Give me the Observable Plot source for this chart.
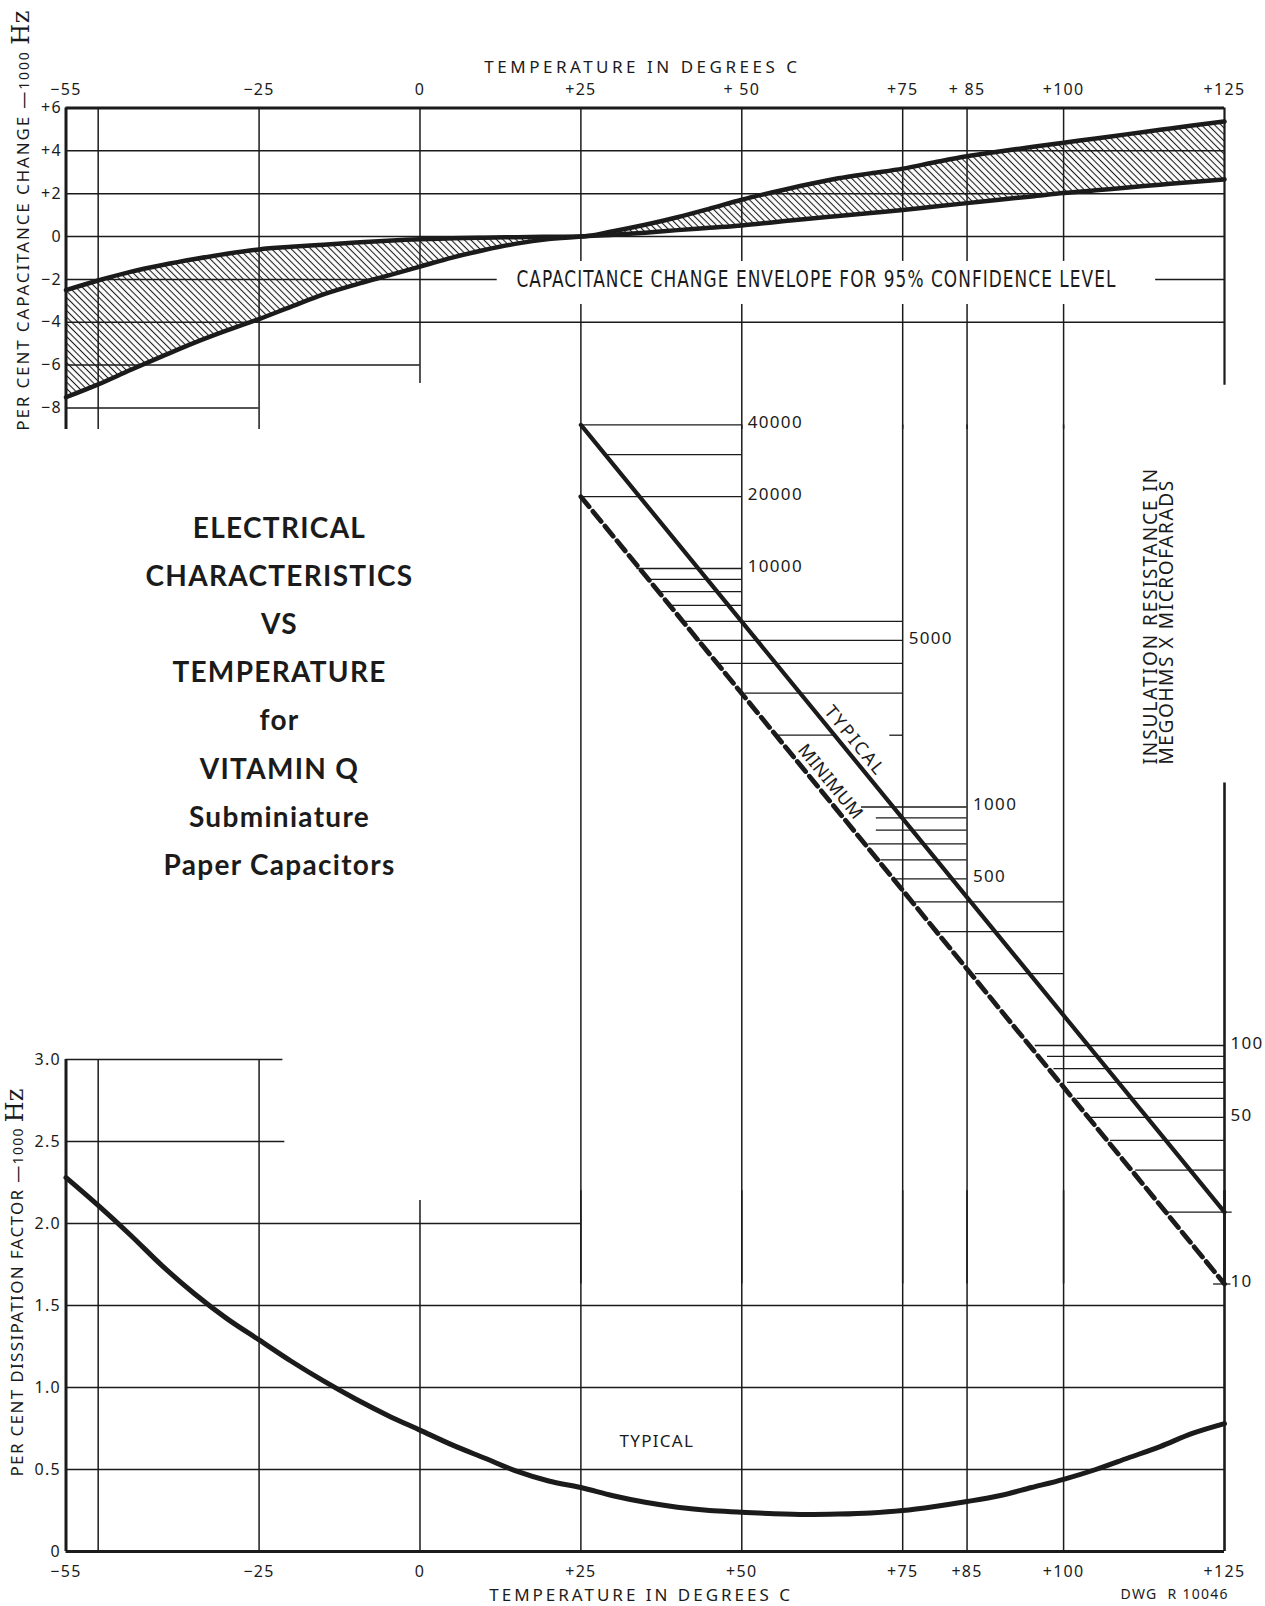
<!DOCTYPE html>
<html><head><meta charset="utf-8">
<script src="https://cdn.jsdelivr.net/npm/d3@7"></script>
<script src="https://cdn.jsdelivr.net/npm/@observablehq/plot@0.6"></script>
<style>
html,body{margin:0;padding:0;background:#fff;}
#page{position:relative;width:1265px;height:1606px;overflow:hidden;background:#fff;}
#page svg{position:absolute;left:0;top:0;}
</style></head><body><div id="page"></div>
<script>
// ---------------- data ----------------
const tempTicks = [-55, -25, 0, 25, 50, 75, 85, 100, 125];
const topTickLabels = ["−55", "−25", "0", "+25", "+ 50", "+75", "+ 85", "+100", "+125"];
const bottomTickLabels = ["−55", "−25", "0", "+25", "+50", "+75", "+85", "+100", "+125"];

// capacitance change envelope (per cent)
const capTemps = [-55,-50,-45,-40,-35,-30,-25,-20,-15,-10,-5,0,5,10,15,20,25,30,35,40,45,50,55,60,65,70,75,80,85,90,95,100,105,110,115,120,125];
const capUpper = [-2.5,-2.05,-1.65,-1.33,-1.05,-0.8,-0.6,-0.48,-0.38,-0.28,-0.19,-0.12,-0.08,-0.05,-0.03,-0.01,0,0.25,0.55,0.9,1.3,1.72,2.08,2.42,2.72,2.95,3.17,3.47,3.75,3.97,4.18,4.38,4.58,4.78,4.98,5.18,5.37];
const capLower = [-7.5,-6.9,-6.23,-5.58,-4.95,-4.38,-3.85,-3.27,-2.7,-2.24,-1.82,-1.4,-0.98,-0.63,-0.33,-0.12,0,0.08,0.18,0.3,0.41,0.52,0.67,0.82,0.96,1.1,1.24,1.4,1.56,1.72,1.87,2.03,2.16,2.29,2.42,2.55,2.67];
const capTicks = [6, 4, 2, 0, -2, -4, -6, -8];
const capTickLabels = ["+6", "+4", "+2", "0", "−2", "−4", "−6", "−8"];
const capGridValues = [6, 4, 2, 0, -2, -2, -4, -6, -8];
const capGridStart  = [-55, -55, -55, -55, -55, 114.3, -55, -55, -55];
const capGridEnd    = [125, 125, 125, 125, 12, 125, 125, 0, -25];
const capVertTemps  = [-55, -50, -25, 0, 25, 25, 50, 50, 75, 75, 85, 85, 100, 100, 125];
const capVertTop    = [6, 6, 6, 6, 6, -3.17, 6, -3.17, 6, -3.17, 6, -3.17, 6, -3.17, 6];
const capVertBottom = [-9, -9, -9, -6.86, -1.16, -9, -1.16, -9, -1.16, -9, -1.16, -9, -1.16, -9, -6.94];
const capNote = "CAPACITANCE CHANGE ENVELOPE FOR 95% CONFIDENCE LEVEL";
const capNoteTemp = 61.6, capNoteValue = -2;

// insulation resistance (megohms x microfarads)
const irTemps = [25, 125];
const irTypical = [40000, 20];
const irMinimum = [20000, 10];
const irGridValues = [40000,30000,20000,10000,9000,8000,7000,6000,5000,4000,3000,2000,2000,1000,900,800,700,600,500,400,300,200,100,90,80,70,60,50,40,30,20,10];
const irGridStart  = [25,29,25,33.7,35.8,37.2,38.9,41,43.3,46.6,50.5,55.5,73,68.6,70.9,70.9,69.7,71.6,73.6,77,80.8,86.3,95.6,97.5,98.5,100.6,102.1,104.2,107.3,111.2,116.1,123.3];
const irGridEnd    = [50,50,50,50,50,50,50,75,75,75,75,64.3,75,85,85,85,85,85,85,100,100,100,125,125,125,125,125,125,125,125,126.2,126];
const irVertTemps  = [25, 50, 75, 85, 100, 125];
const irVertTop    = [40000, 40000, 40000, 40000, 40000, 1260];
const irVertBottom = [10, 10, 10, 10, 10, 10];
const irLabelValues = [40000, 20000, 10000, 5000, 1000, 500, 100, 50, 10];
const irLabelTemps  = [50, 50, 50, 75, 85, 85, 125, 125, 125];
const irNotes = ["TYPICAL", "MINIMUM"];
const irNoteTemps = [67.5, 63.8];
const irNoteValues = [1900, 1270];

// dissipation factor (per cent)
const dfTemps = [-55,-50,-45,-40,-35,-30,-25,-20,-15,-10,-5,0,5,10,15,20,25,30,35,40,45,50,55,60,65,70,75,80,85,90,95,100,105,110,115,120,125];
const dfTypical = [2.28,2.11,1.93,1.74,1.57,1.42,1.29,1.16,1.04,0.93,0.83,0.74,0.65,0.57,0.49,0.43,0.39,0.34,0.3,0.27,0.25,0.24,0.23,0.225,0.228,0.235,0.25,0.275,0.305,0.34,0.39,0.44,0.5,0.57,0.64,0.72,0.78];
const dfTicks = [0, 0.5, 1, 1.5, 2, 2.5, 3];
const dfTickLabels = ["0", "0.5", "1.0", "1.5", "2.0", "2.5", "3.0"];
const dfGridValues = [3, 2.5, 2, 1.5, 1, 0.5, 0];
const dfGridStart  = [-55, -55, -55, -55, -55, -55, -55];
const dfGridEnd    = [-21.3, -21, 25, 125, 125, 125, 125];
const dfVertTemps  = [-55, -50, -25, 0, 25, 50, 75, 85, 100, 125];
const dfVertTop    = [3, 3, 3, 2.14, 2.2, 2.2, 2.2, 2.2, 2.2, 2.2];
const dfVertBottom = [0, 0, 0, 0, 0, 0, 0, 0, 0, 0];
const dfNote = "TYPICAL", dfNoteTemp = 36.8, dfNoteValue = 0.67;

const titleLines = ["ELECTRICAL", "CHARACTERISTICS", "VS", "TEMPERATURE", "for", "VITAMIN Q", "Subminiature", "Paper Capacitors"];
const xTitle = "TEMPERATURE IN DEGREES C";
const capTitle = "PER CENT CAPACITANCE CHANGE —";
const dfTitle = "PER CENT DISSIPATION FACTOR —";
const irTitle = ["INSULATION RESISTANCE IN", "MEGOHMS X MICROFARADS"];
const drawingNo = "DWG  R 10046";

// ---------------- layout ----------------
const W = 1265, H = 1606;
const INK = "#1b1b1b";
const ML = 65.5, MR = 41;
const baseStyle = "background: transparent; font-family: 'Noto Sans', 'DejaVu Sans', sans-serif; font-size: 16px; color: " + INK + "; letter-spacing: 1.3px;";
const xScale = {domain: [-55, 125]};
const page = document.getElementById("page");

const capData = capTemps.map((t, i) => ({t, hi: capUpper[i], lo: capLower[i]}));
const capGrid = capGridValues.map((v, i) => ({v, x1: capGridStart[i], x2: capGridEnd[i]}));
const capVert = capVertTemps.map((t, i) => ({t, y1: capVertTop[i], y2: capVertBottom[i]}));

const capPlot = Plot.plot({
  width: W, height: H,
  marginLeft: ML, marginRight: MR, marginTop: 107.5, marginBottom: H - 428.9,
  style: baseStyle,
  x: {...xScale, axis: "top", ticks: tempTicks, tickFormat: d => topTickLabels[tempTicks.indexOf(d)], tickSize: 0, tickPadding: 13, label: null},
  y: {domain: [-9, 6], axis: "left", ticks: capTicks, tickFormat: d => capTickLabels[capTicks.indexOf(d)], tickSize: 0, tickPadding: 4, label: null},
  marks: [
    Plot.areaY(capData, {x: "t", y1: "lo", y2: "hi", fill: "url(#hatch)", curve: "monotone-x"}),
    Plot.ruleY(capGrid, {y: "v", x1: "x1", x2: "x2", stroke: INK, strokeWidth: d => d.v === 6 ? 3 : 1.5}),
    Plot.ruleX(capVert, {x: "t", y1: "y1", y2: "y2", stroke: INK, strokeWidth: d => d.t === -55 ? 3 : d.t === 125 ? 2.2 : 1.5}),
    Plot.line(capData, {x: "t", y: "hi", stroke: INK, strokeWidth: 4.5, curve: "monotone-x"}),
    Plot.line(capData, {x: "t", y: "lo", stroke: INK, strokeWidth: 4.5, curve: "monotone-x"}),
    Plot.text([capNote], {x: () => capNoteTemp, y: () => capNoteValue, text: d => d, fontFamily: "'DejaVu Sans Condensed', 'Liberation Sans Narrow', sans-serif", fontSize: 23}),
    Plot.text([xTitle], {frameAnchor: "top", lineAnchor: "middle", dx: -4, dy: -40, fontSize: 17, text: d => d}),
    Plot.text([capTitle], {frameAnchor: "left", textAnchor: "start", dx: -42.5, dy: 162, rotate: -90, fontSize: 17, text: d => d})
  ]
});

const irGrid = irGridValues.map((v, i) => ({v, x1: irGridStart[i], x2: irGridEnd[i]}));
const irVert = irVertTemps.map((t, i) => ({t, y1: irVertTop[i], y2: irVertBottom[i]}));
const irTyp = irTemps.map((t, i) => ({t, v: irTypical[i]}));
const irMin = irTemps.map((t, i) => ({t, v: irMinimum[i]}));
const irLabels = irLabelValues.map((v, i) => ({v, t: irLabelTemps[i], label: String(v)}));
const irNoteData = irNotes.map((s, i) => ({s, t: irNoteTemps[i], v: irNoteValues[i]}));

const irPlot = Plot.plot({
  width: W, height: H,
  marginLeft: ML, marginRight: MR, marginTop: 424.4, marginBottom: H - 1283.5,
  style: baseStyle,
  x: {...xScale, axis: null},
  y: {type: "log", domain: [10, 40000], axis: null},
  marks: [
    Plot.ruleX(irVert, {x: "t", y1: "y1", y2: "y2", stroke: INK, strokeWidth: d => d.t === 125 ? 2.6 : 1.5}),
    Plot.ruleY(irGrid, {y: "v", x1: "x1", x2: "x2", stroke: INK, strokeWidth: 1.3}),
    Plot.line(irTyp, {x: "t", y: "v", stroke: INK, strokeWidth: 4.2}),
    Plot.line(irMin, {x: "t", y: "v", stroke: INK, strokeWidth: 4.8, strokeDasharray: "13,6"}),
    Plot.text(irLabels, {x: "t", y: "v", text: "label", textAnchor: "start", dx: 6, dy: -2, fontSize: 17}),
    Plot.text(irNoteData, {x: "t", y: "v", text: "s", rotate: 50.74, fontSize: 18}),
    Plot.text([irTitle[0]], {frameAnchor: "top-right", dx: -74, dy: 339.6, rotate: -90, textAnchor: "start", lineAnchor: "middle", fontSize: 19, text: d => d}),
    Plot.text([irTitle[1]], {frameAnchor: "top-right", dx: -58, dy: 339.6, rotate: -90, textAnchor: "start", lineAnchor: "middle", fontSize: 19, text: d => d}),
    Plot.text([titleLines.join("\n")], {frameAnchor: "top-left", textAnchor: "middle", dx: 213.5, dy: 266.1, lineAnchor: "middle", lineHeight: 1.72, fontSize: 28, fontWeight: "bold", fontFamily: "Lato, 'Open Sans', sans-serif", text: d => d})
  ]
});

const dfData = dfTemps.map((t, i) => ({t, v: dfTypical[i]}));
const dfGrid = dfGridValues.map((v, i) => ({v, x1: dfGridStart[i], x2: dfGridEnd[i]}));
const dfVert = dfVertTemps.map((t, i) => ({t, y1: dfVertTop[i], y2: dfVertBottom[i]}));

const dfPlot = Plot.plot({
  width: W, height: H,
  marginLeft: ML, marginRight: MR, marginTop: 1059, marginBottom: H - 1551,
  style: baseStyle,
  x: {...xScale, axis: "bottom", ticks: tempTicks, tickFormat: d => bottomTickLabels[tempTicks.indexOf(d)], tickSize: 0, tickPadding: 14, label: null},
  y: {domain: [0, 3], axis: "left", ticks: dfTicks, tickFormat: d => dfTickLabels[dfTicks.indexOf(d)], tickSize: 0, tickPadding: 5, label: null},
  marks: [
    Plot.ruleY(dfGrid, {y: "v", x1: "x1", x2: "x2", stroke: INK, strokeWidth: d => d.v === 0 ? 3.2 : 1.5}),
    Plot.ruleX(dfVert, {x: "t", y1: "y1", y2: "y2", stroke: INK, strokeWidth: d => d.t === -55 ? 3 : d.t === 125 ? 2.6 : 1.5}),
    Plot.line(dfData, {x: "t", y: "v", stroke: INK, strokeWidth: 5, curve: "monotone-x"}),
    Plot.text([dfNote], {x: () => dfNoteTemp, y: () => dfNoteValue, fontSize: 17, text: d => d}),
    Plot.text([xTitle], {frameAnchor: "bottom", lineAnchor: "middle", dx: -5, dy: 44, fontSize: 17, text: d => d}),
    Plot.text([dfTitle], {frameAnchor: "left", textAnchor: "start", dx: -48, dy: 171, rotate: -90, fontSize: 17, text: d => d}),
    Plot.text([drawingNo], {frameAnchor: "bottom-right", dx: -104, dy: 47, textAnchor: "start", lineAnchor: "bottom", fontSize: 14, text: d => d})
  ]
});

page.appendChild(capPlot);
page.appendChild(irPlot);
page.appendChild(dfPlot);

// hatch pattern for the envelope
const defs = d3.select(capPlot).insert("defs", ":first-child");
const pat = defs.append("pattern").attr("id", "hatch").attr("patternUnits", "userSpaceOnUse")
  .attr("width", 4.6).attr("height", 4.6).attr("patternTransform", "rotate(-45)");
pat.append("line").attr("x1", 2.3).attr("y1", -1).attr("x2", 2.3).attr("y2", 6).attr("stroke", INK).attr("stroke-width", 1.1);

function fit(svg, str, len, adjust) {
  d3.select(svg).selectAll("text").filter(function () { return this.textContent === str; })
    .attr("textLength", len).attr("lengthAdjust", adjust || "spacing");
}
function dressTitle(svg, str, len) {
  d3.select(svg).selectAll("text").filter(function () { return this.textContent === str; }).each(function () {
    const t = d3.select(this);
    t.text(null);
    t.append("tspan").text(str);
    t.append("tspan").attr("font-size", 14).text("1000 ");
    t.append("tspan").attr("font-family", "'DejaVu Serif', 'Liberation Serif', serif").attr("font-size", 24).attr("letter-spacing", 0).text("Hz");
    t.attr("textLength", len).attr("lengthAdjust", "spacing");
  });
}
fit(capPlot, xTitle, 314);
fit(dfPlot, xTitle, 302);
fit(capPlot, capNote, 600, "spacingAndGlyphs");
fit(irPlot, irTitle[0], 297);
fit(irPlot, irTitle[1], 285);
fit(irPlot, irNotes[0], 84);
fit(irPlot, irNotes[1], 92);
dressTitle(capPlot, capTitle, 420);
dressTitle(dfPlot, dfTitle, 388);
</script></body></html>
